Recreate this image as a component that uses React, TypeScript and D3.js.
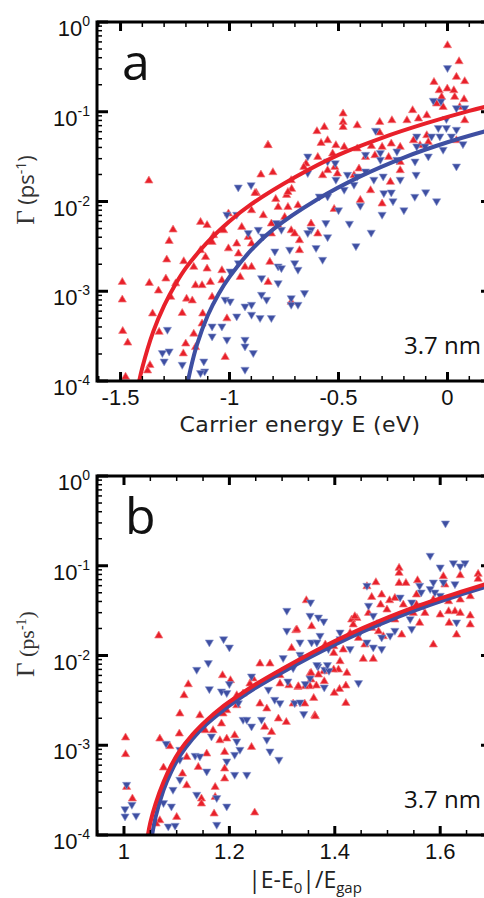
import React from 'react';
import * as d3 from 'd3';

// values are [x, log10(Γ / ps^-1)]
// panel a: carrier energy E (eV)
const redA: [number, number][] = [
  [-1.492, -2.894], [-1.492, -3.09], [-1.49, -3.44], [-1.467, -3.57], [-1.477, -3.95],
  [-1.368, -2.905], [-1.326, -2.99], [-1.353, -3.245], [-1.323, -3.45], [-1.365, -3.82], [-1.376, -3.88],
  [-1.288, -2.644], [-1.277, -2.437], [-1.259, -2.31], [-1.292, -2.856], [-1.27, -3.06], [-1.247, -2.91],
  [-1.21, -2.663], [-1.217, -3.24], [-1.197, -3.08], [-1.201, -3.58], [-1.212, -3.69],
  [-1.164, -2.726], [-1.156, -2.93], [-1.171, -3.1], [-1.164, -3.47], [-1.156, -3.62],
  [-1.133, -2.225], [-1.103, -2.26], [-1.133, -2.54], [-1.11, -2.615], [-1.103, -2.745], [-1.126, -2.93],
  [-1.088, -2.894], [-1.123, -3.245], [-1.126, -3.357], [-1.08, -3.06], [-1.08, -2.448], [-1.073, -2.373],
  [-1.027, -2.318], [-1.005, -2.52], [-1.035, -2.763], [-1.035, -2.875], [-1.012, -3.3], [-1.02, -3.73],
  [-0.967, -2.466], [-0.959, -2.577], [-0.951, -2.838], [-0.929, -2.726], [-0.899, -2.726], [-0.944, -2.281],
  [-0.914, -2.392], [-0.899, -2.466], [-0.899, -2.095], [-0.845, -2.15], [-0.808, -2.243], [-0.808, -2.354],
  [-0.777, -2.262], [-0.747, -2.17], [-0.717, -2.318], [-0.701, -2.354], [-0.679, -2.429], [-0.732, -2.058],
  [-0.686, -2.039], [-0.626, -2.243], [-0.595, -2.354], [-0.679, -2.54], [-0.815, -2.67], [-0.823, -2.894],
  [-0.717, -3.116], [-1.005, -2.131], [-0.777, -2.058],
  [-1.37, -1.764], [-0.824, -1.367], [-0.856, -1.697], [-0.801, -1.671], [-0.877, -1.902], [-0.788, -1.969],
  [-0.738, -1.924], [-0.715, -1.857],
  [0.0, -0.256], [0.053, -0.435], [-0.062, -0.665], [0.041, -0.609], [0.079, -0.657], [-0.038, -0.758],
  [-0.001, -0.739], [0.029, -0.758], [-0.027, -0.832], [0.033, -0.832], [0.076, -0.858], [-0.05, -0.906],
  [-0.02, -0.944], [0.056, -0.944], [0.079, -1.092], [-0.16, -0.98], [-0.095, -1.036], [-0.133, -1.073],
  [-0.255, -1.092], [-0.311, -1.111], [-0.186, -1.092], [-0.479, -1.017], [-0.479, -1.111], [-0.479, -1.167],
  [-0.414, -1.148], [-0.565, -1.167], [-0.599, -1.214], [-0.311, -1.229], [-0.55, -1.315], [-0.58, -1.345],
  [-0.512, -1.37], [-0.474, -1.389], [-0.414, -1.407], [-0.349, -1.378], [-0.3, -1.389], [-0.258, -1.352],
  [-0.217, -1.389], [-0.156, -1.315], [-0.095, -1.259], [-0.088, -1.334], [-0.126, -1.37], [-0.595, -1.501],
  [-0.527, -1.463], [-0.376, -1.501], [-0.333, -1.482], [-0.27, -1.501], [-0.217, -1.557], [-0.649, -1.575],
  [-0.659, -1.612], [-0.55, -1.649], [-0.517, -1.612], [-0.406, -1.63], [-0.217, -1.649], [-0.573, -1.705],
  [-0.505, -1.686], [-0.429, -1.705], [-0.717, -1.76], [-0.823, -1.37], [-0.732, -1.891], [-0.262, -1.779],
  [-0.353, -1.872], [-0.883, -1.902], [0.041, -1.315], [-0.52, -2.08], [-0.4, -1.98], [-0.3, -2.02],
];

const blueA: [number, number][] = [
  [-0.96, -1.846], [-0.901, -1.82], [-0.967, -2.15], [-1.012, -2.15], [-0.914, -2.354], [-0.868, -2.318],
  [-0.785, -2.243], [-0.762, -2.318], [-0.845, -2.392], [-0.792, -2.559], [-0.777, -2.726], [-0.762, -2.745],
  [-0.701, -2.689], [-0.686, -2.763], [-0.724, -2.54], [-0.626, -2.318], [-0.603, -2.52], [-0.573, -2.652],
  [-0.558, -2.243], [-0.641, -2.354], [-0.959, -2.689], [-0.997, -2.782], [-0.853, -2.856], [-0.777, -2.912],
  [-0.717, -3.079], [-0.717, -3.153], [-0.656, -3.023], [-0.686, -3.153], [-0.853, -3.042], [-0.83, -3.097],
  [-0.899, -3.153], [-0.929, -3.172], [-0.967, -3.283], [-0.899, -3.264], [-0.86, -3.301], [-0.808, -3.301],
  [-1.02, -3.097], [-0.997, -3.116], [-1.035, -3.395], [-1.08, -3.395], [-1.08, -3.506], [-1.012, -3.543],
  [-0.929, -3.543], [-0.929, -3.618], [-0.891, -3.691], [-0.929, -3.877], [-1.118, -3.785], [-1.114, -3.896],
  [-1.133, -3.914], [-1.285, -3.432], [-1.308, -3.691], [-1.277, -3.673], [-1.217, -3.822], [-1.3, -3.785],
  [0.0, -0.516], [-0.065, -0.88], [-0.03, -0.888], [0.041, -0.962], [0.079, -0.962], [-0.005, -1.084],
  [-0.042, -1.184], [-0.005, -1.184], [0.041, -1.203], [-0.33, -1.214], [-0.141, -1.278], [-0.073, -1.278],
  [-0.035, -1.278], [0.018, -1.278], [0.071, -1.363], [-0.103, -1.389], [-0.141, -1.389], [-0.02, -1.426],
  [-0.088, -1.501], [-0.232, -1.445], [-0.308, -1.463], [-0.376, -1.482], [-0.308, -1.538], [-0.232, -1.538],
  [-0.149, -1.557], [-0.641, -1.501], [-0.55, -1.557], [-0.515, -1.575], [-0.459, -1.705], [-0.414, -1.724],
  [-0.376, -1.668], [-0.338, -1.76], [-0.295, -1.724], [-0.217, -1.76], [-0.144, -1.705], [-0.292, -1.909],
  [-0.258, -1.902], [-0.512, -1.76], [-0.474, -1.872], [-0.429, -1.816], [-0.641, -1.686], [0.041, -1.612],
  [-0.588, -1.947], [-0.55, -1.947], [-0.5, -2.1], [-0.45, -2.25], [-0.4, -2.05], [-0.35, -2.35],
  [-0.3, -2.15], [-0.25, -2.0], [-0.2, -2.1], [-0.15, -1.95], [-0.42, -2.5], [-0.55, -2.4], [-0.1, -1.9],
  [-0.05, -2.0],
];

// fitted curves
const redCurveA: [number, number][] = [
  [-1.423, -4.1], [-1.4, -3.85], [-1.35, -3.45], [-1.3, -3.16], [-1.25, -2.93], [-1.2, -2.74],
  [-1.1, -2.45], [-1.0, -2.22], [-0.9, -2.03], [-0.7, -1.73], [-0.5, -1.48], [-0.3, -1.29],
  [-0.1, -1.13], [0.1, -0.99], [0.2, -0.93],
];
const blueCurveA: [number, number][] = [
  [-1.2, -4.12], [-1.18, -3.88], [-1.15, -3.6], [-1.1, -3.27], [-1.05, -3.03], [-1.0, -2.84],
  [-0.9, -2.54], [-0.8, -2.31], [-0.6, -1.98], [-0.4, -1.72], [-0.2, -1.51], [0.0, -1.34], [0.2, -1.2],
];

// panel b: |E-E0|/Egap
const redB: [number, number][] = [
  [1.003, -2.911], [1.003, -3.097], [1.005, -3.462], [1.016, -3.591], [1.068, -2.923], [1.087, -3.008],
  [1.075, -3.246], [1.106, -2.644], [1.105, -2.867], [1.114, -2.44], [1.122, -2.318], [1.119, -3.128],
  [1.111, -3.313], [1.119, -3.443], [1.1, -3.796], [1.068, -3.833], [1.061, -3.87], [1.144, -2.663],
  [1.154, -2.83], [1.157, -3.09], [1.141, -3.239], [1.147, -3.591], [1.147, -3.647], [1.173, -3.462],
  [1.173, -3.573], [1.171, -3.758], [1.187, -2.217], [1.202, -2.273], [1.195, -2.607], [1.185, -2.755],
  [1.169, -2.83], [1.182, -2.942], [1.195, -2.923], [1.21, -2.886], [1.191, -3.072], [1.191, -3.257],
  [1.191, -3.368], [1.242, -3.016], [1.248, -3.747], [1.214, -2.44], [1.214, -2.552], [1.226, -2.421],
  [1.239, -2.31], [1.258, -2.533], [1.271, -2.588], [1.267, -2.793], [1.28, -2.849], [1.293, -2.7],
  [1.308, -2.738], [1.277, -2.087], [1.296, -2.217], [1.296, -2.31], [1.313, -2.329], [1.33, -2.348],
  [1.353, -2.198], [1.362, -2.663], [1.343, -2.533], [1.321, -2.533], [1.258, -2.087], [1.245, -2.254],
  [1.188, -2.644], [1.066, -1.775], [1.318, -1.913], [1.326, -1.716],
  [1.672, -1.088], [1.638, -1.103], [1.606, -1.114], [1.609, -1.207], [1.672, -1.144], [1.522, -1.021],
  [1.522, -1.077], [1.522, -1.189], [1.535, -1.189], [1.557, -1.159], [1.478, -1.181], [1.461, -1.226],
  [1.489, -1.318], [1.47, -1.345], [1.504, -1.382], [1.514, -1.356], [1.53, -1.43], [1.555, -1.318],
  [1.555, -1.43], [1.587, -1.374], [1.616, -1.393], [1.638, -1.374], [1.657, -1.337], [1.616, -1.504],
  [1.628, -1.504], [1.638, -1.523], [1.6, -1.541], [1.571, -1.523], [1.549, -1.523], [1.657, -1.552],
  [1.657, -1.652], [1.617, -1.634], [1.631, -1.764], [1.587, -1.875], [1.561, -1.634], [1.527, -1.764],
  [1.514, -1.597], [1.499, -1.485], [1.487, -1.43], [1.464, -1.523], [1.442, -1.579], [1.47, -1.69],
  [1.483, -1.727], [1.492, -1.783], [1.432, -1.597], [1.435, -1.652], [1.429, -1.746], [1.445, -1.802],
  [1.457, -1.875], [1.416, -1.931], [1.398, -1.894], [1.398, -1.969], [1.346, -1.382], [1.356, -1.671],
  [1.328, -1.708], [1.382, -1.875], [1.438, -1.56],
  [1.454, -2.035], [1.473, -2.035], [1.423, -2.191], [1.41, -2.061], [1.407, -2.154], [1.398, -2.154],
  [1.379, -2.173], [1.369, -2.21], [1.355, -2.191], [1.355, -2.265], [1.353, -2.34], [1.344, -2.34],
  [1.331, -2.34], [1.365, -2.332], [1.38, -2.284], [1.421, -2.332], [1.409, -2.37], [1.399, -2.414],
  [1.36, -2.47], [1.421, -2.526], [1.363, -2.674],
];

const blueB: [number, number][] = [
  [1.005, -3.443], [1.002, -3.714], [1.002, -3.796], [1.015, -3.666], [1.023, -3.788], [1.08, -2.986],
  [1.106, -3.053], [1.106, -3.164], [1.138, -2.162], [1.16, -2.087], [1.162, -2.377], [1.185, -2.403],
  [1.195, -2.421], [1.2, -2.321], [1.166, -2.905], [1.135, -3.12], [1.144, -3.128], [1.157, -3.295],
  [1.106, -3.387], [1.093, -3.499], [1.075, -3.647], [1.09, -3.685], [1.084, -3.908], [1.097, -3.9],
  [1.138, -3.554], [1.176, -3.591], [1.176, -3.889], [1.195, -3.685], [1.217, -2.533], [1.226, -2.719],
  [1.233, -2.719], [1.242, -2.793], [1.214, -2.96], [1.22, -3.053], [1.21, -3.109], [1.21, -3.332],
  [1.233, -3.332], [1.195, -3.183], [1.242, -2.236], [1.274, -2.384], [1.286, -2.496], [1.296, -2.533],
  [1.324, -2.533], [1.271, -2.942], [1.277, -3.072], [1.294, -3.164], [1.261, -2.719], [1.311, -2.292],
  [1.321, -2.143], [1.368, -2.125], [1.381, -2.162], [1.302, -2.031], [1.334, -1.994],
  [1.162, -1.857], [1.189, -1.82], [1.2, -1.913], [1.309, -1.504], [1.309, -1.727],
  [1.61, -0.531], [1.581, -0.891], [1.625, -0.973], [1.647, -0.973], [1.638, -1.01], [1.6, -1.021],
  [1.587, -1.189], [1.606, -1.189], [1.628, -1.207], [1.561, -1.226], [1.564, -1.3], [1.581, -1.262],
  [1.59, -1.3], [1.6, -1.337], [1.524, -1.356], [1.546, -1.411], [1.568, -1.448], [1.461, -1.226],
  [1.464, -1.448], [1.473, -1.56], [1.486, -1.634], [1.489, -1.802], [1.505, -1.783], [1.514, -1.727],
  [1.543, -1.597], [1.546, -1.708], [1.631, -1.634], [1.354, -1.411], [1.353, -1.56], [1.369, -1.579],
  [1.379, -1.623], [1.334, -1.857], [1.356, -1.857], [1.366, -1.857], [1.372, -1.783], [1.41, -1.82],
  [1.41, -1.746], [1.448, -1.746], [1.461, -1.857], [1.473, -1.913], [1.489, -1.931], [1.429, -1.931],
  [1.388, -1.931],
  [1.366, -2.109], [1.389, -2.173], [1.353, -2.258], [1.344, -2.321], [1.38, -2.359], [1.445, -2.31],
  [1.341, -2.655], [1.334, -2.526], [1.386, -2.109], [1.337, -2.024],
];

const redCurveB: [number, number][] = [
  [1.044, -4.05], [1.05, -3.86], [1.06, -3.65], [1.075, -3.41], [1.09, -3.22], [1.106, -3.06],
  [1.13, -2.88], [1.157, -2.72], [1.185, -2.58], [1.214, -2.46], [1.25, -2.32], [1.3, -2.15],
  [1.353, -1.98], [1.4, -1.84], [1.455, -1.69], [1.52, -1.53], [1.581, -1.4], [1.64, -1.29], [1.6945, -1.19],
];
const blueCurveB: [number, number][] = [
  [1.052, -4.05], [1.06, -3.8], [1.075, -3.5], [1.09, -3.29], [1.106, -3.12], [1.13, -2.93],
  [1.157, -2.765], [1.185, -2.625], [1.214, -2.5], [1.25, -2.36], [1.3, -2.19], [1.353, -2.02],
  [1.4, -1.88], [1.455, -1.73], [1.52, -1.57], [1.581, -1.435], [1.64, -1.32], [1.6945, -1.22],
];

const xTicksA = [-1.5, -1, -0.5, 0];
const xTicksB = [1, 1.2, 1.4, 1.6];
const yExponents = [0, -1, -2, -3, -4];

const RED = '#e8202a';
const BLUE = '#3e4fa2';
const LEFT = 97;
const RIGHT = 490;
const PLOT_H = 359;

const upTri = 'M0,-4.3L4.1,2.7L-4.1,2.7Z';
const downTri = 'M0,4.3L4.1,-2.7L-4.1,-2.7Z';

type PanelProps = {
  id: string;
  top: number;
  xDomain: [number, number];
  xTicks: number[];
  xMinor: number;
  red: [number, number][];
  blue: [number, number][];
  redCurve: [number, number][];
  blueCurve: [number, number][];
  letter: string;
  letterX: number;
  xTitle: React.ReactNode;
  yLabelFont: string;
};

const Panel = ({ id, top, xDomain, xTicks, xMinor, red, blue, redCurve, blueCurve, letter, letterX, xTitle, yLabelFont }: PanelProps) => {
  const bottom = top + PLOT_H;
  const x = d3.scaleLinear().domain(xDomain).range([LEFT, RIGHT]);
  const y = d3.scaleLog().domain([1e-4, 1]).range([bottom, top]);

  const line = d3.line<[number, number]>()
    .x(d => x(d[0]))
    .y(d => y(Math.pow(10, d[1])))
    .curve(d3.curveCatmullRom.alpha(0.5));

  const minorX = d3.range(Math.ceil(xDomain[0] / xMinor), Math.floor(xDomain[1] / xMinor) + 1)
    .map(i => +(i * xMinor).toFixed(4));
  const minorY: number[] = [];
  for (let e = -4; e < 0; e++) for (let k = 2; k <= 9; k++) minorY.push(k * Math.pow(10, e));

  const tickStroke = '#000';
  return (
    <g>
      <defs>
        <clipPath id={id}>
          <rect x={LEFT} y={top} width={RIGHT - LEFT} height={PLOT_H} />
        </clipPath>
      </defs>
      <g clipPath={`url(#${id})`}>
        {red.map((d, i) => (
          <path key={'r' + i} d={upTri} transform={`translate(${x(d[0])},${y(Math.pow(10, d[1]))})`}
            fill={RED} stroke='#f27a7e' strokeWidth={0.7} />
        ))}
        {blue.map((d, i) => (
          <path key={'b' + i} d={downTri} transform={`translate(${x(d[0])},${y(Math.pow(10, d[1]))})`}
            fill={BLUE} stroke='#8f9ad0' strokeWidth={0.6} />
        ))}
        <path d={line(blueCurve) || ''} fill='none' stroke={BLUE} strokeWidth={4} />
        <path d={line(redCurve) || ''} fill='none' stroke={RED} strokeWidth={4} />
      </g>

      {/* minor ticks */}
      {minorX.map(v => (
        <g key={'mx' + v} stroke={tickStroke} strokeWidth={1.5}>
          <line x1={x(v)} x2={x(v)} y1={bottom} y2={bottom - 5} />
          <line x1={x(v)} x2={x(v)} y1={top} y2={top + 5} />
        </g>
      ))}
      {minorY.map(v => (
        <g key={'my' + v} stroke={tickStroke} strokeWidth={1.5}>
          <line x1={LEFT} x2={LEFT + 5} y1={y(v)} y2={y(v)} />
          <line x1={RIGHT} x2={RIGHT - 5} y1={y(v)} y2={y(v)} />
        </g>
      ))}
      {/* major ticks */}
      {xTicks.map(v => (
        <g key={'Mx' + v} stroke={tickStroke} strokeWidth={3}>
          <line x1={x(v)} x2={x(v)} y1={bottom} y2={bottom - 9} />
          <line x1={x(v)} x2={x(v)} y1={top} y2={top + 9} />
        </g>
      ))}
      {yExponents.map(e => (
        <g key={'My' + e} stroke={tickStroke} strokeWidth={3}>
          <line x1={LEFT} x2={LEFT + 11} y1={y(Math.pow(10, e))} y2={y(Math.pow(10, e))} />
          <line x1={RIGHT} x2={RIGHT - 9} y1={y(Math.pow(10, e))} y2={y(Math.pow(10, e))} />
        </g>
      ))}
      <rect x={LEFT} y={top} width={RIGHT - LEFT} height={PLOT_H} fill='none' stroke='#000' strokeWidth={3} />

      {/* tick labels */}
      {xTicks.map(v => (
        <text key={'lx' + v} x={x(v)} y={bottom + 24} textAnchor='middle'
          fontFamily='Liberation Sans, Arial, sans-serif' fontSize={22} fill='#111'>
          {String(v)}
        </text>
      ))}
      {yExponents.map(e => (
        <text key={'ly' + e} x={90} y={y(Math.pow(10, e)) + 14} textAnchor='end'
          fontFamily='Liberation Sans, Arial, sans-serif' fontSize={22} fill='#111'>
          10<tspan dy={-10} fontSize={14}>{String(e)}</tspan>
        </text>
      ))}

      {/* y axis label */}
      <text transform={`translate(34,${top + 168}) rotate(-90)`} textAnchor='middle' fill='#333' fontSize={22}
        fontFamily={yLabelFont}>
        <tspan fontFamily='Liberation Serif, serif' fontSize={25}>Γ</tspan> (ps<tspan dy={-8} fontSize={14}>-1</tspan><tspan dy={8}>)</tspan>
      </text>

      {xTitle}

      <text x={letterX} y={top + 58} fontFamily='Open Sans, sans-serif' fontSize={50} fill='#111'>{letter}</text>
      <text x={481} y={top + 332} textAnchor='end' fontFamily='Open Sans, sans-serif' fontSize={24} fill='#111'>3.7 nm</text>
    </g>
  );
};

export default function App() {
  const topA = 22;
  const topB = 476;
  return (
    <svg width={484} height={898} viewBox='0 0 484 898'
      style={{ position: 'absolute', left: 0, top: 0, background: '#fff' }}>
      <Panel id='clipA' top={topA} xDomain={[-1.608, 0.195]} xTicks={xTicksA} xMinor={0.1}
        red={redA} blue={blueA} redCurve={redCurveA} blueCurve={blueCurveA}
        letter='a' letterX={122} yLabelFont='Open Sans, sans-serif'
        xTitle={
          <text x={300} y={topA + PLOT_H + 51} textAnchor='middle' fontFamily='DejaVu Sans, sans-serif'
            fontSize={22} letterSpacing={0.4} fill='#222'>Carrier energy E (eV)</text>
        } />
      <Panel id='clipB' top={topB} xDomain={[0.9488, 1.6945]} xTicks={xTicksB} xMinor={0.05}
        red={redB} blue={blueB} redCurve={redCurveB} blueCurve={blueCurveB}
        letter='b' letterX={125} yLabelFont='Liberation Serif, serif'
        xTitle={
          <text x={305} y={topB + PLOT_H + 53} textAnchor='middle' fontFamily='Open Sans, sans-serif'
            fontSize={23} fill='#222'>
            |E-E<tspan dy={5} fontSize={15}>0</tspan><tspan dy={-5}>|/E</tspan><tspan dy={5} fontSize={15}>gap</tspan>
          </text>
        } />
    </svg>
  );
}
